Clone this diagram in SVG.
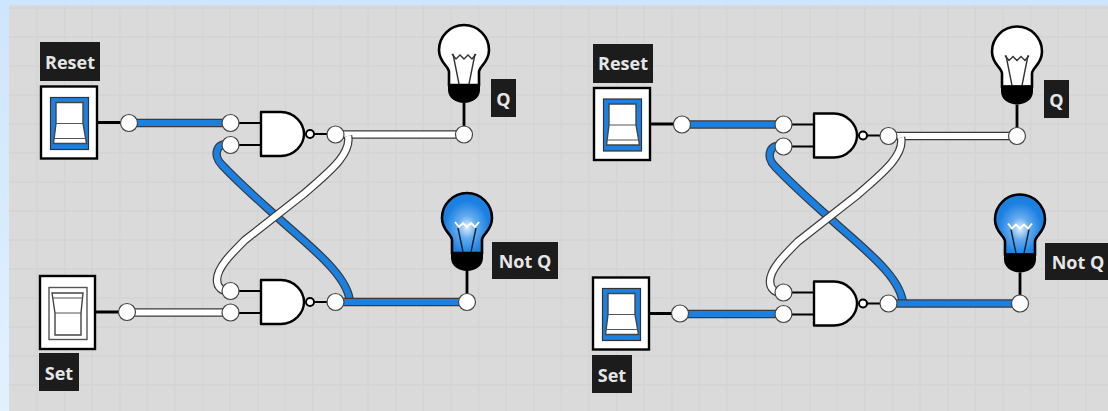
<svg xmlns="http://www.w3.org/2000/svg" width="1108" height="411" viewBox="0 0 1108 411">
<style>
.k{fill:none;stroke:#000;stroke-width:2.8}
.wo{fill:none;stroke:#3a3a3a;stroke-width:8.6;stroke-linecap:butt}
.wb{fill:none;stroke:#1a80e2;stroke-width:6.2}
.ww{fill:none;stroke:#fff;stroke-width:6.2}
.n{fill:#fff;stroke:#444;stroke-width:1.2}
.gate{fill:#fff;stroke:#000;stroke-width:2.4;stroke-linejoin:round}
.lb{fill:#1c1c1c}
.t{font-family:"Open Sans","Noto Sans",sans-serif;font-weight:700;font-size:18px;fill:#e6e6e6}
.grid{stroke:#d4d4d4;stroke-width:1.4}
</style>
<defs>
<linearGradient id="side" x1="0" y1="0" x2="0" y2="1"><stop offset="0" stop-color="#cde5fe"/><stop offset="1" stop-color="#e2f1fe"/></linearGradient>
<radialGradient id="glow" cx="0.5" cy="0.57" r="0.55"><stop offset="0" stop-color="#e4f0fb"/><stop offset="0.35" stop-color="#62aaee"/><stop offset="0.8" stop-color="#1a80e2"/></radialGradient>
<path id="bulbshape" d="M-15,34 L-15,21 C-15,15 -25,12 -25,-1 A25,25 0 1 1 25,-1 C25,12 15,15 15,21 L15,34 Z"/>
<path id="bulbbase" d="M-16,33 L16,33 L16,39 C16,47 8,52 0,52 C-8,52 -16,47 -16,39 Z"/>
<g id="bulboff">
<use href="#bulbshape" fill="#fff" stroke="#000" stroke-width="2.6"/>
<path d="M-11,3 L-5,33 M11,3 L5,33" fill="none" stroke="#333" stroke-width="1.4"/>
<path d="M-12,3 L-8,8 L-4,4 L0,8 L4,4 L8,8 L12,3" fill="none" stroke="#333" stroke-width="1.4"/>
<use href="#bulbbase" fill="#000"/>
</g>
<g id="bulbon">
<use href="#bulbshape" fill="url(#glow)" stroke="#000" stroke-width="2.6"/>
<path d="M-9,9 L-4,33 M9,9 L4,33" fill="none" stroke="#123" stroke-width="1.4"/>
<path d="M-12,3 L-8,8 L-4,4 L0,8 L4,4 L8,8 L12,3" fill="none" stroke="#fff" stroke-width="1.8"/>
<use href="#bulbbase" fill="#000"/>
</g>
<g id="gate">
<path class="k" style="stroke-width:1.8" d="M-31,-11 L0,-11 M-31,11 L0,11 M47,0 L75,0"/>
<path class="gate" d="M0,-22 L20,-22 C33,-22 43,-11 43,0 C43,11 33,22 20,22 L0,22 Z"/>
<circle cx="49" cy="0" r="4" class="gate" style="stroke-width:2"/>
</g>
<g id="swon">
<rect x="1" y="1" width="56" height="72" fill="#fff" stroke="#000" stroke-width="2.4"/>
<rect x="10.500" y="12" width="38" height="52" fill="#1a80e2" stroke="#333" stroke-width="1.2"/>
<path d="M16,17 H43 V38 L46.500,58 H13.500 L16,38 Z" fill="#fff" stroke="#444" stroke-width="1.4"/>
<path d="M16,38 H43 M14,53 H46" fill="none" stroke="#555" stroke-width="1.2"/>
</g>
<g id="swoff">
<rect x="1" y="1" width="55" height="73" fill="#fff" stroke="#000" stroke-width="2.4"/>
<rect x="10" y="12.500" width="38" height="52" fill="#fff" stroke="#555" stroke-width="1.4"/>
<path d="M13,18 H44 L42,38 V60 H16 V38 Z" fill="#fff" stroke="#444" stroke-width="1.4"/>
<path d="M13,23 H44 M16,38 H42" fill="none" stroke="#555" stroke-width="1.2"/>
</g>
</defs>
<rect width="1108" height="411" fill="url(#side)"/>
<rect x="9" y="5" width="1099" height="406" fill="#dadada"/>
<path class="grid" d="M37,5V411M64.600,5V411M92.200,5V411M119.800,5V411M147.400,5V411M175,5V411M202.600,5V411M230.200,5V411M257.800,5V411M285.400,5V411M313,5V411M340.600,5V411M368.200,5V411M395.800,5V411M423.400,5V411M451,5V411M478.600,5V411M506.200,5V411M533.800,5V411M561.400,5V411M589,5V411M616.600,5V411M644.200,5V411M671.800,5V411M699.400,5V411M727,5V411M754.600,5V411M782.200,5V411M809.800,5V411M837.400,5V411M865,5V411M892.600,5V411M920.200,5V411M947.800,5V411M975.400,5V411M1003,5V411M1030.600,5V411M1058.200,5V411M1085.800,5V411M9,8H1108M9,37H1108M9,66H1108M9,95H1108M9,124H1108M9,153H1108M9,182H1108M9,211H1108M9,240H1108M9,269H1108M9,298H1108M9,327H1108M9,356H1108M9,385H1108"/>

<g id="connectors">
<g id="connectors-left">
<path class="k" d="M98,122.500 H122 M96,312 H120 M464,103 V134 M467,271 V302"/>
<path class="wo" d="M129,123 H230"/><path class="wb" d="M129,123 H230"/>
<path class="wo" d="M127,312.500 H230"/><path class="ww" d="M127,312.500 H230"/>
<path class="wo" d="M335,134.500 H464"/><path class="ww" d="M335,134.500 H464"/>
<path class="wo" d="M230,145 C217,141 212,155 222,165 C240,184 255,197 275,215 C305,243 350,275 350,304"/>
<path class="wb" d="M230,145 C217,141 212,155 222,165 C240,184 255,197 275,215 C305,243 350,275 350,304"/>
<path class="wo" d="M335,302 H467"/><path class="wb" d="M335,302 H467"/>
<path class="wo" d="M348,136 C352,155 325,175 305,193 L245,240 C230,255 217,268 217,280 C217,287 222,292 230,291"/>
<path class="ww" d="M348,136 C352,155 325,175 305,193 L245,240 C230,255 217,268 217,280 C217,287 222,292 230,291"/>
</g>
<g id="connectors-right" transform="translate(553,1.500)">
<path class="k" d="M98,122.500 H122 M96,312 H120 M464,103 V134 M467,271 V302"/>
<path class="wo" d="M129,123 H230"/><path class="wb" d="M129,123 H230"/>
<path class="wo" d="M127,312.500 H230"/><path class="wb" d="M127,312.500 H230"/>
<path class="wo" d="M335,134.500 H464"/><path class="ww" d="M335,134.500 H464"/>
<path class="wo" d="M230,145 C217,141 212,155 222,165 C240,184 255,197 275,215 C305,243 350,275 350,304"/>
<path class="wb" d="M230,145 C217,141 212,155 222,165 C240,184 255,197 275,215 C305,243 350,275 350,304"/>
<path class="wo" d="M335,302 H467"/><path class="wb" d="M335,302 H467"/>
<path class="wo" d="M348,136 C352,155 325,175 305,193 L245,240 C230,255 217,268 217,280 C217,287 222,292 230,291"/>
<path class="ww" d="M348,136 C352,155 325,175 305,193 L245,240 C230,255 217,268 217,280 C217,287 222,292 230,291"/>
</g>
</g>

<g id="reset-left"><rect class="lb" x="40" y="42" width="60" height="39"/><text class="t" x="70" y="69" text-anchor="middle">Reset</text><use href="#swon" x="40" y="85.500"/></g>
<g id="set-left"><use href="#swoff" x="39" y="275"/><rect class="lb" x="39" y="353" width="40" height="38"/><text class="t" x="59" y="380" text-anchor="middle">Set</text></g>
<g id="nand-top-left"><use href="#gate" x="261" y="134"/></g>
<g id="nand-bottom-left"><use href="#gate" x="261" y="302"/></g>
<g id="bulb-q-left"><use href="#bulboff" x="464" y="51"/><rect class="lb" x="491" y="79" width="25" height="38"/><text class="t" x="503.500" y="106" text-anchor="middle">Q</text></g>
<g id="bulb-notq-left"><use href="#bulbon" x="467" y="219"/><rect class="lb" x="492" y="242" width="66" height="37"/><text class="t" x="525" y="268" text-anchor="middle">Not Q</text></g>
<g id="pins-left">
<circle class="n" cx="129" cy="123" r="8.500"/><circle class="n" cx="230.500" cy="123" r="8.500"/><circle class="n" cx="230.500" cy="145" r="8.500"/><circle class="n" cx="335.500" cy="134.500" r="8.500"/><circle class="n" cx="464" cy="134.500" r="8.500"/>
<circle class="n" cx="127" cy="312" r="8.500"/><circle class="n" cx="230.500" cy="312.500" r="8.500"/><circle class="n" cx="230.500" cy="291" r="8.500"/><circle class="n" cx="335.500" cy="302" r="8.500"/><circle class="n" cx="467" cy="302" r="8.500"/>
</g>

<g id="reset-right"><rect class="lb" x="593" y="44" width="60" height="39"/><text class="t" x="623" y="70" text-anchor="middle">Reset</text><use href="#swon" x="593" y="87"/></g>
<g id="set-right"><use href="#swon" x="592" y="276.500"/><rect class="lb" x="592" y="355" width="40" height="38"/><text class="t" x="612" y="382" text-anchor="middle">Set</text></g>
<g id="nand-top-right"><use href="#gate" x="814" y="135.500"/></g>
<g id="nand-bottom-right"><use href="#gate" x="814" y="303.500"/></g>
<g id="bulb-q-right"><use href="#bulboff" x="1017" y="52.500"/><rect class="lb" x="1044" y="80" width="25" height="38"/><text class="t" x="1056.500" y="107" text-anchor="middle">Q</text></g>
<g id="bulb-notq-right"><use href="#bulbon" x="1020" y="220.500"/><rect class="lb" x="1045" y="243" width="63" height="37"/><text class="t" x="1078" y="269" text-anchor="middle">Not Q</text></g>
<g id="pins-right">
<circle class="n" cx="682" cy="124.500" r="8.500"/><circle class="n" cx="783.500" cy="124.500" r="8.500"/><circle class="n" cx="783.500" cy="146.500" r="8.500"/><circle class="n" cx="888.500" cy="136" r="8.500"/><circle class="n" cx="1017" cy="136" r="8.500"/>
<circle class="n" cx="680" cy="313.500" r="8.500"/><circle class="n" cx="783.500" cy="314" r="8.500"/><circle class="n" cx="783.500" cy="292.500" r="8.500"/><circle class="n" cx="888.500" cy="303.500" r="8.500"/><circle class="n" cx="1020" cy="303.500" r="8.500"/>
</g>
</svg>
